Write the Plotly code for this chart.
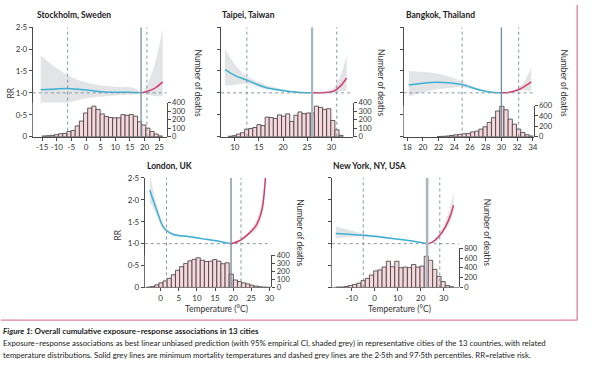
import plotly.graph_objects as go

# ------------------------------------------------------------------ data
rr_tick_vals = [0, 0.5, 1.0, 1.5, 2.0, 2.5]
rr_tick_text = ["0", "0·5", "1·0", "1·5", "2·0", "2·5"]

# Stockholm
sto_title = "Stockholm, Sweden"
sto_bin_temp = [-14.35, -12.93, -11.51, -10.09, -8.67, -7.25, -5.83, -4.41, -2.99, -1.57,
                -0.15, 1.27, 2.69, 4.11, 5.53, 6.95, 8.37, 9.79, 11.21, 12.63,
                14.05, 15.47, 16.89, 18.31, 19.73, 21.15, 22.57, 23.99, 25.41]
sto_bin_deaths = [8, 11, 15, 23, 34, 38, 61, 72, 126, 183,
                  278, 335, 358, 320, 267, 236, 225, 221, 221, 259,
                  251, 259, 240, 175, 137, 99, 61, 30, 8]
sto_bin_width = 1.42
sto_cold_temp = [-15.5, -10.6, -6.3, 0.8, 6.4, 14.3, 18.8]
sto_cold_rr = [1.07, 1.09, 1.10, 1.06, 1.02, 1.015, 1.0]
sto_heat_temp = [18.8, 20.8, 23.4, 26.2]
sto_heat_rr = [1.0, 1.03, 1.10, 1.25]
sto_ci_temp = [-15.5, -12, -9, -6.3, -3, 0, 4, 8, 12, 15, 17.5, 18.8, 20.8, 23, 26.2]
sto_ci_high = [1.86, 1.66, 1.52, 1.40, 1.30, 1.24, 1.18, 1.15, 1.13, 1.13, 1.08, 1.0, 1.18, 1.55, 2.45]
sto_ci_low = [0.62, 0.67, 0.72, 0.77, 0.83, 0.87, 0.91, 0.93, 0.95, 0.96, 0.98, 1.0, 0.96, 0.93, 0.92]
sto_mmt = 18.8
sto_pct = [-6.3, 20.8]
sto_xtick_vals = [-15, -10, -5, 0, 5, 10, 15, 20, 25]
sto_xtick_text = ["-15", "-10", "-5", "0", "5", "10", "15", "20", "25"]
sto_death_ticks = [0, 100, 200, 300, 400]

# Taipei
tpe_title = "Taipei, Taiwan"
tpe_bin_temp = [9.05, 9.90, 10.75, 11.60, 12.45, 13.30, 14.15, 15.00, 15.85, 16.70,
                17.55, 18.40, 19.25, 20.10, 20.95, 21.80, 22.65, 23.50, 24.35, 25.20,
                26.05, 26.90, 27.75, 28.60, 29.45, 30.30, 31.15, 32.00]
tpe_bin_deaths = [5, 11, 30, 46, 88, 95, 107, 141, 130, 229,
                  225, 213, 255, 240, 267, 179, 251, 290, 270, 278,
                  278, 358, 343, 320, 328, 190, 80, 15]
tpe_bin_width = 0.85
tpe_cold_temp = [7.95, 10.0, 12.5, 16.2, 19.6, 23.0, 26.0]
tpe_cold_rr = [1.53, 1.40, 1.29, 1.13, 1.06, 1.015, 1.0]
tpe_heat_temp = [26.0, 28.5, 30.5, 31.9, 33.15]
tpe_heat_rr = [1.0, 1.007, 1.04, 1.16, 1.34]
tpe_ci_temp = [7.95, 10.0, 12.5, 16.2, 19.6, 23.0, 26.0, 28.5, 30.5, 31.9, 33.15]
tpe_ci_high = [2.02, 1.65, 1.38, 1.19, 1.09, 1.03, 1.0, 1.02, 1.12, 1.40, 1.86]
tpe_ci_low = [1.16, 1.18, 1.21, 1.09, 1.03, 1.005, 1.0, 0.995, 1.0, 1.03, 1.04]
tpe_mmt = 26.0
tpe_pct = [12.5, 31.1]
tpe_xtick_vals = [10, 15, 20, 25, 30]
tpe_xtick_text = ["10", "15", "20", "25", "30"]
tpe_death_ticks = [0, 100, 200, 300, 400]

# Bangkok
bkk_title = "Bangkok, Thailand"
bkk_bin_temp = [22.07, 22.60, 23.14, 23.67, 24.20, 24.74, 25.27, 25.80, 26.34, 26.87,
                27.40, 27.93, 28.46, 29.00, 29.53, 30.06, 30.59, 31.13, 31.66, 32.19,
                32.73, 33.26, 33.79]
bkk_bin_deaths = [3, 6, 12, 22, 35, 45, 55, 62, 90, 105,
                  145, 190, 275, 365, 494, 590, 518, 337, 240, 145,
                  80, 37, 12]
bkk_bin_width = 0.533
bkk_cold_temp = [18.2, 20.0, 21.8, 23.5, 24.95, 27.4, 29.1, 30.0]
bkk_cold_rr = [1.18, 1.22, 1.24, 1.225, 1.19, 1.06, 1.007, 1.0]
bkk_heat_temp = [30.0, 31.2, 32.5, 33.8]
bkk_heat_rr = [1.0, 1.02, 1.10, 1.25]
bkk_ci_temp = [18.2, 20.0, 21.8, 23.5, 24.95, 27.4, 29.1, 30.0, 31.2, 32.5, 33.8]
bkk_ci_high = [1.50, 1.48, 1.44, 1.36, 1.26, 1.08, 1.01, 1.0, 1.03, 1.17, 1.58]
bkk_ci_low = [0.92, 1.01, 1.08, 1.11, 1.13, 1.04, 1.0, 1.0, 1.0, 1.05, 1.04]
bkk_mmt = 30.0
bkk_pct = [25.0, 32.2]
bkk_xtick_vals = [18, 20, 22, 24, 26, 28, 30, 32, 34]
bkk_xtick_text = ["18", "20", "22", "24", "26", "28", "30", "32", "34"]
bkk_death_ticks = [0, 200, 400, 600]

# London
lon_title = "London, UK"
lon_bin_temp = [-3.33, -2.19, -1.05, 0.09, 1.23, 2.37, 3.51, 4.65, 5.79, 6.93,
                8.07, 9.21, 10.35, 11.49, 12.63, 13.77, 14.91, 16.05, 17.19, 18.33,
                19.47, 20.61, 21.75, 22.89, 24.03, 25.17, 26.31, 27.45, 28.59, 29.73]
lon_bin_deaths = [4, 12, 32, 57, 81, 113, 158, 214, 259, 299,
                  331, 350, 370, 339, 323, 327, 347, 327, 295, 307,
                  166, 93, 73, 57, 44, 28, 16, 8, 4, 1]
lon_bin_width = 1.14
lon_cold_temp = [-3.0, -1.2, 0.6, 1.6, 3.5, 7.9, 12.5, 17.0, 19.4]
lon_cold_rr = [2.22, 1.79, 1.40, 1.30, 1.21, 1.16, 1.10, 1.04, 1.0]
lon_heat_temp = [19.4, 21.6, 24.3, 26.2, 27.1, 28.0, 28.9]
lon_heat_rr = [1.0, 1.06, 1.23, 1.40, 1.55, 1.80, 2.50]
lon_ci_temp = [-3.0, -1.2, 0.6, 1.6, 3.5, 7.9, 12.5, 17.0, 19.4, 21.6, 24.3, 26.2, 28.0, 28.9]
lon_ci_high = [2.60, 1.92, 1.46, 1.34, 1.24, 1.18, 1.12, 1.05, 1.0, 1.08, 1.28, 1.50, 2.00, 2.80]
lon_ci_low = [1.95, 1.68, 1.34, 1.26, 1.18, 1.14, 1.08, 1.03, 1.0, 1.04, 1.19, 1.30, 1.65, 2.25]
lon_mmt = 19.4
lon_pct = [1.6, 22.15]
lon_xtick_vals = [0, 5, 10, 15, 20, 25, 30]
lon_xtick_text = ["0", "5", "10", "15", "20", "25", "30"]
lon_death_ticks = [0, 100, 200, 300, 400]

# New York
nyc_title = "New York, NY, USA"
nyc_bin_temp = [-16.0, -14.16, -12.33, -10.5, -8.67, -6.84, -5.0, -3.17, -1.35, 0.48,
                2.32, 4.15, 5.98, 7.81, 9.64, 11.47, 13.3, 15.14, 16.96, 18.79,
                20.63, 22.46, 24.3, 26.12, 27.95, 29.78, 31.62, 33.45]
nyc_bin_deaths = [7, 7, 20, 40, 60, 86, 139, 185, 251, 337,
                  357, 416, 535, 423, 535, 403, 416, 403, 469, 416,
                  436, 635, 555, 370, 225, 119, 40, 13]
nyc_bin_width = 1.83
nyc_cold_temp = [-16.9, -10.0, -4.95, 7.6, 14.8, 22.8]
nyc_cold_rr = [1.23, 1.21, 1.19, 1.12, 1.07, 1.0]
nyc_heat_temp = [22.8, 24.9, 27.8, 30.7, 32.9, 34.3]
nyc_heat_rr = [1.0, 1.03, 1.16, 1.38, 1.64, 1.88]
nyc_ci_temp = [-16.9, -10.0, -4.95, 7.6, 14.8, 22.8, 24.9, 27.8, 30.7, 32.9, 34.3]
nyc_ci_high = [1.40, 1.30, 1.23, 1.14, 1.08, 1.0, 1.05, 1.22, 1.50, 1.85, 2.16]
nyc_ci_low = [1.12, 1.15, 1.16, 1.10, 1.06, 1.0, 1.02, 1.12, 1.30, 1.50, 1.71]
nyc_mmt = 22.8
nyc_pct = [-4.95, 28.3]
nyc_xtick_vals = [-10, 0, 10, 20, 30]
nyc_xtick_text = ["-10", "0", "10", "20", "30"]
nyc_death_ticks = [0, 200, 400, 600, 800]

caption_title = "<b><i>Figure 1</i>: Overall cumulative exposure–response associations in 13 cities</b>"
caption_line1 = ("Exposure–response associations as best linear unbiased prediction (with 95% empirical CI, "
                 "shaded grey) in representative cities of the 13 countries, with related")
caption_line2 = ("temperature distributions. Solid grey lines are minimum mortality temperatures and dashed "
                 "grey lines are the 2·5th and 97·5th percentiles. RR=relative risk.")
x_title = "Temperature (°C)"

# ------------------------------------------------------------------ layout / style
W, H = 600, 369
FONT = "Lato, 'Open Sans', sans-serif"
CAPFONT = "Lato, sans-serif"
TXT = "#333333"
AX = "#4a4a4a"
BLUE = "#3cb1d5"
RED = "#d43d6c"
BAND = "#e3e4e6"
BAR_FILL = "#f7d7dc"
BAR_LINE = "#3a3a3a"
REF = "#7f97a6"
PINK = "#dd7f9f"


def px(x):
    return x / W


def py(y):
    return 1 - y / H


panels = [
    dict(title=sto_title, bt=sto_bin_temp, bd=sto_bin_deaths, bw=sto_bin_width,
         ct=sto_cold_temp, cr=sto_cold_rr, ht=sto_heat_temp, hr=sto_heat_rr,
         cit=sto_ci_temp, cih=sto_ci_high, cil=sto_ci_low, mmt=sto_mmt, pct=sto_pct,
         xtv=sto_xtick_vals, xtt=sto_xtick_text, dt=sto_death_ticks,
         x0=32, x1=167, ytop=22.8, ybot=135.3, dtop=100.3, xr=[-18.22, 27.54],
         rrlab=True, mmtw=1.3, mmtc="#7890a2", rrpos=(10, 90), ndpos=(199, 80), tpos=(34, 10)),
    dict(title=tpe_title, bt=tpe_bin_temp, bd=tpe_bin_deaths, bw=tpe_bin_width,
         ct=tpe_cold_temp, cr=tpe_cold_rr, ht=tpe_heat_temp, hr=tpe_heat_rr,
         cit=tpe_ci_temp, cih=tpe_ci_high, cil=tpe_ci_low, mmt=tpe_mmt, pct=tpe_pct,
         xtv=tpe_xtick_vals, xtt=tpe_xtick_text, dt=tpe_death_ticks,
         x0=222, x1=355, ytop=22.8, ybot=135.3, dtop=100.3, xr=[7.17, 34.48],
         rrlab=False, mmtw=2.2, mmtc="#a7b6bf", rrpos=None, ndpos=(383, 80), tpos=(221, 10)),
    dict(title=bkk_title, bt=bkk_bin_temp, bd=bkk_bin_deaths, bw=bkk_bin_width,
         ct=bkk_cold_temp, cr=bkk_cold_rr, ht=bkk_heat_temp, hr=bkk_heat_rr,
         cit=bkk_ci_temp, cih=bkk_ci_high, cil=bkk_ci_low, mmt=bkk_mmt, pct=bkk_pct,
         xtv=bkk_xtick_vals, xtt=bkk_xtick_text, dt=bkk_death_ticks,
         x0=406, x1=537, ytop=22.8, ybot=135.3, dtop=103.3, xr=[17.55, 34.09],
         rrlab=False, mmtw=1.3, mmtc="#6f8da2", rrpos=None, ndpos=(568, 80), tpos=(406, 10)),
    dict(title=lon_title, bt=lon_bin_temp, bd=lon_bin_deaths, bw=lon_bin_width,
         ct=lon_cold_temp, cr=lon_cold_rr, ht=lon_heat_temp, hr=lon_heat_rr,
         cit=lon_ci_temp, cih=lon_ci_high, cil=lon_ci_low, mmt=lon_mmt, pct=lon_pct,
         xtv=lon_xtick_vals, xtt=lon_xtick_text, dt=lon_death_ticks,
         x0=145, x1=272.5, ytop=177.8, ybot=290.3, dtop=257.3, xr=[-4.38, 30.49],
         rrlab=True, mmtw=1.3, mmtc="#6f899c", rrpos=(118, 237), ndpos=(302, 234), tpos=(145, 165),
         xtpos=(217, 312)),
    dict(title=nyc_title, bt=nyc_bin_temp, bd=nyc_bin_deaths, bw=nyc_bin_width,
         ct=nyc_cold_temp, cr=nyc_cold_rr, ht=nyc_heat_temp, hr=nyc_heat_rr,
         cit=nyc_ci_temp, cih=nyc_ci_high, cil=nyc_ci_low, mmt=nyc_mmt, pct=nyc_pct,
         xtv=nyc_xtick_vals, xtt=nyc_xtick_text, dt=nyc_death_ticks,
         x0=333.5, x1=461.5, ytop=177.8, ybot=290.3, dtop=250.0, xr=[-18.66, 36.5],
         rrlab=False, mmtw=2.6, mmtc="#aeb6bc", rrpos=None, ndpos=(490, 234), tpos=(333, 165),
         xtpos=(402, 312)),
]

fig = go.Figure()
layout = dict(width=W, height=H, margin=dict(l=0, r=0, t=0, b=0),
              paper_bgcolor="white", plot_bgcolor="white", showlegend=False,
              font=dict(family=FONT, size=8, color=TXT), barmode="overlay")
shapes = []
annotations = []

for k, p in enumerate(panels, start=1):
    xn = "x" if k == 1 else f"x{k}"
    yr = f"y{2 * k - 1}" if k > 1 else "y"
    yd = f"y{2 * k}"
    xkey = "xaxis" if k == 1 else f"xaxis{k}"
    yrkey = "yaxis" if k == 1 else f"yaxis{2 * k - 1}"
    ydkey = f"yaxis{2 * k}"

    layout[xkey] = dict(domain=[px(p["x0"]), px(p["x1"])], range=p["xr"], anchor=yr,
                        showgrid=False, zeroline=False, showline=True, linecolor=AX, linewidth=1,
                        ticks="outside", ticklen=3, tickcolor=AX, tickwidth=1,
                        tickvals=p["xtv"], ticktext=p["xtt"], tickangle=0,
                        tickfont=dict(family=FONT, size=8, color=TXT))
    layout[yrkey] = dict(domain=[py(p["ybot"]), py(p["ytop"])], range=[0, 2.5], anchor=xn,
                         showgrid=False, zeroline=False, showline=True, linecolor=AX, linewidth=1,
                         ticks="outside", ticklen=3, tickcolor=AX, tickwidth=1,
                         tickvals=rr_tick_vals, ticktext=rr_tick_text,
                         showticklabels=p["rrlab"],
                         tickfont=dict(family=FONT, size=8, color=TXT))
    layout[ydkey] = dict(domain=[py(p["ybot"]), py(p["dtop"])], range=[0, p["dt"][-1]],
                         anchor=xn, side="right",
                         showgrid=False, zeroline=False, showline=True, linecolor=AX, linewidth=1,
                         ticks="outside", ticklen=3, tickcolor=AX, tickwidth=1,
                         tickvals=p["dt"], ticktext=[str(v) for v in p["dt"]],
                         tickfont=dict(family=FONT, size=7.5, color=TXT))

    # histogram of temperature distribution
    fig.add_trace(go.Bar(x=p["bt"], y=p["bd"], width=p["bw"], xaxis=xn, yaxis=yd,
                         marker=dict(color=BAR_FILL, line=dict(color=BAR_LINE, width=0.8)),
                         hoverinfo="skip"))
    # CI band
    fig.add_trace(go.Scatter(x=p["cit"], y=p["cil"], xaxis=xn, yaxis=yr, mode="lines",
                             line=dict(width=0, shape="spline", color=BAND), hoverinfo="skip"))
    fig.add_trace(go.Scatter(x=p["cit"], y=p["cih"], xaxis=xn, yaxis=yr, mode="lines",
                             line=dict(width=0, shape="spline", color=BAND), fill="tonexty",
                             fillcolor=BAND, hoverinfo="skip"))
    # exposure-response curves
    fig.add_trace(go.Scatter(x=p["ct"], y=p["cr"], xaxis=xn, yaxis=yr, mode="lines",
                             line=dict(width=1.5, shape="spline", color=BLUE)))
    fig.add_trace(go.Scatter(x=p["ht"], y=p["hr"], xaxis=xn, yaxis=yr, mode="lines",
                             line=dict(width=1.5, shape="spline", color=RED)))

    # reference lines
    shapes.append(dict(type="line", xref=f"{xn} domain", yref=yr, x0=0, x1=1, y0=1, y1=1,
                       line=dict(color=REF, width=1, dash="dot"), layer="above"))
    for v in p["pct"]:
        shapes.append(dict(type="line", xref=xn, yref=yr, x0=v, x1=v, y0=0, y1=2.5,
                           line=dict(color=REF, width=1, dash="dot"), layer="above"))
    shapes.append(dict(type="line", xref=xn, yref=yr, x0=p["mmt"], x1=p["mmt"], y0=0, y1=2.5,
                       line=dict(color=p["mmtc"], width=p["mmtw"]), layer="above"))

    # texts
    annotations.append(dict(text=f"<b>{p['title']}</b>", x=px(p["tpos"][0]), y=py(p["tpos"][1]),
                            xref="paper", yref="paper", xanchor="left", yanchor="middle",
                            showarrow=False, font=dict(family=FONT, size=8.5, color="#222")))
    if p["rrpos"]:
        annotations.append(dict(text="RR", x=px(p["rrpos"][0]), y=py(p["rrpos"][1]),
                                xref="paper", yref="paper", xanchor="center", yanchor="middle",
                                textangle=-90, showarrow=False,
                                font=dict(family=CAPFONT, size=8.5, color=TXT)))
    annotations.append(dict(text="Number of deaths", x=px(p["ndpos"][0]), y=py(p["ndpos"][1]),
                            xref="paper", yref="paper", xanchor="center", yanchor="middle",
                            textangle=90, showarrow=False,
                            font=dict(family=CAPFONT, size=8.5, color=TXT)))
    if p.get("xtpos"):
        annotations.append(dict(text=x_title, x=px(p["xtpos"][0]), y=py(p["xtpos"][1]),
                                xref="paper", yref="paper", xanchor="center", yanchor="middle",
                                showarrow=False, font=dict(family=CAPFONT, size=8.5, color=TXT)))

# pink frame
shapes.append(dict(type="line", xref="paper", yref="paper", x0=px(581), x1=px(581), y0=py(0), y1=py(324),
                   line=dict(color=PINK, width=1.3)))
shapes.append(dict(type="line", xref="paper", yref="paper", x0=0, x1=px(581), y0=py(324), y1=py(324),
                   line=dict(color=PINK, width=1.3)))

# caption
for txt, yy, sz in [(caption_title, 335, 8.0), (caption_line1, 347.5, 7.8), (caption_line2, 359.5, 7.8)]:
    annotations.append(dict(text=txt, x=0, y=py(yy), xref="paper", yref="paper",
                            xanchor="left", yanchor="middle", showarrow=False,
                            font=dict(family=CAPFONT, size=sz, color="#222")))

layout["shapes"] = shapes
layout["annotations"] = annotations
fig.update_layout(**layout)
fig.write_html("out.html", config={"displayModeBar": False},
               post_script="document.body.style.margin='0';")
